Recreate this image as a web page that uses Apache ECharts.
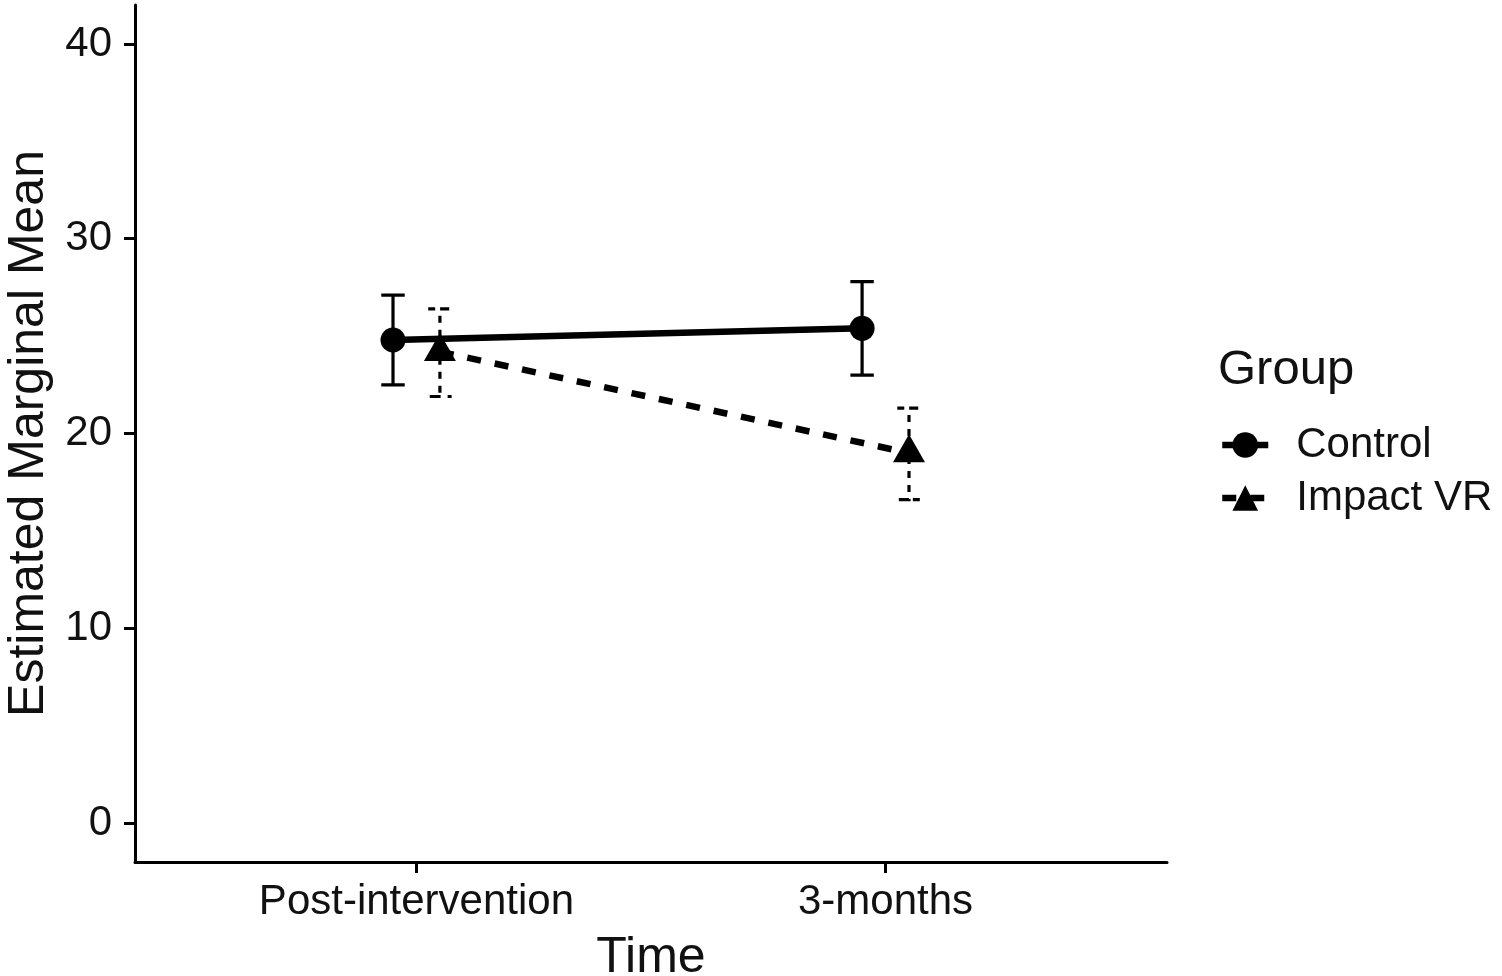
<!DOCTYPE html>
<html>
<head>
<meta charset="utf-8">
<script src="https://cdn.jsdelivr.net/npm/echarts@6.0.0/dist/echarts.min.js"></script>
<style>
  html, body { margin: 0; padding: 0; background: #ffffff; }
  #chart { width: 1502px; height: 976px; }
</style>
</head>
<body>
<div id="chart"></div>
<script>
// ---- data ----
var timeCategories = ['Post-intervention', '3-months'];
var groupNames = ['Control', 'Impact VR'];
var controlMean = [24.8, 25.4];
var controlLower = [22.5, 23.0];
var controlUpper = [27.1, 27.8];
var impactMean = [24.2, 19.0];
var impactLower = [21.9, 16.6];
var impactUpper = [26.4, 21.3];
var yTicks = [0, 10, 20, 30, 40];

// ---- layout helpers ----
var DODGE = 0.05;      // position dodge (x units)
var CAP_HALF = 0.025;  // error bar cap half width (x units)
var FONT = '"Liberation Sans", Arial, "DejaVu Sans", sans-serif';
var TEXT_COLOR = '#111111';

function pts(mean, offset) {
  return mean.map(function (v, i) { return [i + 1 + offset, v]; });
}
function errs(lower, upper, offset) {
  return lower.map(function (lo, i) { return [i + 1 + offset, lo, upper[i]]; });
}

function errorRender(dash) {
  return function (params, api) {
    var x = api.value(0), lo = api.value(1), hi = api.value(2);
    var p = [
      api.coord([x - CAP_HALF, hi]),
      api.coord([x + CAP_HALF, hi]),
      api.coord([x, hi]),
      api.coord([x, lo]),
      api.coord([x - CAP_HALF, lo]),
      api.coord([x + CAP_HALF, lo])
    ];
    return {
      type: 'polyline',
      shape: { points: p },
      style: { stroke: '#000', lineWidth: 3.2, fill: null, lineDash: dash ? [7, 7] : null }
    };
  };
}

var chart = echarts.init(document.getElementById('chart'), null, { renderer: 'canvas' });

var option = {
  backgroundColor: '#ffffff',
  animation: false,
  textStyle: { fontFamily: FONT },
  grid: { left: 135, right: 335, top: 5, bottom: 114, containLabel: false, outerBoundsMode: 'none' },
  xAxis: {
    type: 'value',
    min: 0.4,
    max: 2.6,
    name: 'Time',
    nameLocation: 'middle',
    nameGap: 71,
    nameTextStyle: { fontSize: 50, color: TEXT_COLOR, fontFamily: FONT },
    splitLine: { show: false },
    axisLine: { show: true, onZero: false, lineStyle: { color: '#000', width: 3 } },
    axisTick: { show: true, length: 11, customValues: [1, 2], lineStyle: { color: '#000', width: 3 } },
    axisLabel: {
      show: true,
      customValues: [1, 2],
      margin: 19,
      fontSize: 42,
      color: TEXT_COLOR,
      fontFamily: FONT,
      formatter: function (v) { return timeCategories[Math.round(v) - 1] || ''; }
    }
  },
  yAxis: {
    type: 'value',
    min: -2,
    max: 42,
    name: 'Estimated Marginal Mean',
    nameLocation: 'middle',
    nameGap: 80,
    nameTextStyle: { fontSize: 50, color: TEXT_COLOR, fontFamily: FONT },
    splitLine: { show: false },
    axisLine: { show: true, onZero: false, lineStyle: { color: '#000', width: 3 } },
    axisTick: { show: true, length: 11, customValues: yTicks, lineStyle: { color: '#000', width: 3 } },
    axisLabel: {
      show: true,
      customValues: yTicks,
      margin: 23,
      fontSize: 42,
      color: TEXT_COLOR,
      fontFamily: FONT
    }
  },
  legend: {
    data: [
      { name: groupNames[0], lineStyle: { width: 6.5, color: '#000', type: 'solid' } },
      { name: groupNames[1], lineStyle: { width: 6.5, color: '#000', type: [14, 14] } }
    ],
    orient: 'vertical',
    left: 1214,
    top: 419,
    itemWidth: 46,
    itemHeight: 32,
    itemGap: 11,
    selectedMode: false,
    lineStyle: { width: 6.5 },
    textStyle: { fontSize: 42, color: TEXT_COLOR, fontFamily: FONT, padding: [0, 0, 0, 23] }
  },
  graphic: [{
    type: 'text',
    left: 1218,
    top: 346,
    style: { text: 'Group', fontSize: 49, fill: TEXT_COLOR, fontFamily: FONT }
  }],
  series: [
    {
      name: groupNames[0],
      type: 'line',
      data: pts(controlMean, -DODGE),
      symbol: 'circle',
      symbolSize: 25,
      showSymbol: true,
      itemStyle: { color: '#000' },
      lineStyle: { color: '#000', width: 6.5, type: 'solid' },
      z: 3
    },
    {
      name: groupNames[1],
      type: 'line',
      data: pts(impactMean, DODGE),
      symbol: 'triangle',
      symbolSize: [32, 28],
      symbolOffset: [0, -4.7],
      showSymbol: true,
      itemStyle: { color: '#000' },
      lineStyle: { color: '#000', width: 6.5, type: [14, 14] },
      z: 3
    },
    {
      name: groupNames[0] + ' CI',
      type: 'custom',
      renderItem: errorRender(false),
      data: errs(controlLower, controlUpper, -DODGE),
      encode: { x: 0, y: [1, 2] },
      itemStyle: { color: '#000' },
      z: 2,
      silent: true
    },
    {
      name: groupNames[1] + ' CI',
      type: 'custom',
      renderItem: errorRender(true),
      data: errs(impactLower, impactUpper, DODGE),
      encode: { x: 0, y: [1, 2] },
      itemStyle: { color: '#000' },
      z: 2,
      silent: true
    }
  ]
};
chart.setOption(option);
</script>
</body>
</html>
